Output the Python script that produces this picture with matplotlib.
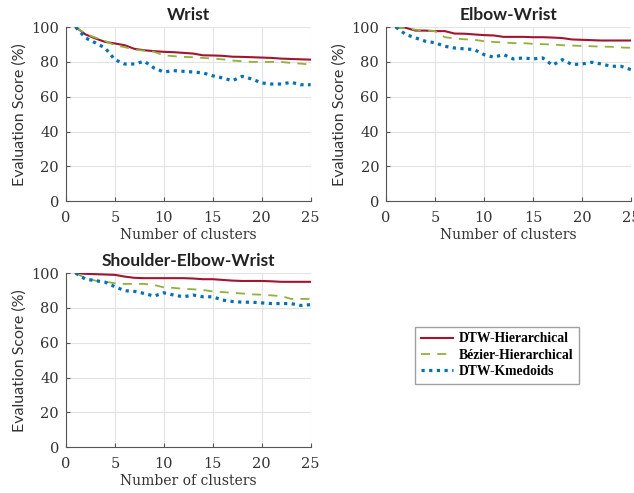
import matplotlib.pyplot as plt

clusters = list(range(1, 26))

# Wrist
wrist_dtw_h = [100, 95.8, 93.5, 91.5, 90.6, 89.6, 87.5, 86.7, 86.2, 85.8, 85.6, 85.2, 84.8,
               83.8, 83.7, 83.5, 83.0, 82.9, 82.7, 82.5, 82.3, 81.9, 81.7, 81.5, 81.3]
wrist_bez_h = [100, 96.0, 94.0, 92.0, 89.6, 88.5, 87.0, 86.5, 85.8, 83.8, 83.3, 82.9, 82.7,
               82.3, 81.9, 81.5, 80.8, 80.4, 80.0, 80.0, 80.0, 80.0, 79.4, 79.0, 78.5]
wrist_dtw_k = [100, 93.8, 91.0, 88.0, 81.3, 78.8, 78.8, 80.4, 76.5, 74.2, 75.0, 74.6, 74.2,
               73.7, 72.0, 70.8, 69.2, 71.7, 70.2, 67.9, 67.3, 67.3, 68.3, 66.9, 66.9]

# Elbow-Wrist
elbow_dtw_h = [100, 99.6, 98.0, 98.0, 97.7, 97.7, 96.3, 96.2, 95.8, 95.4, 95.2, 94.4, 94.4,
               94.4, 94.2, 94.2, 94.0, 93.7, 92.9, 92.7, 92.5, 92.3, 92.3, 92.3, 92.3]
elbow_bez_h = [100, 99.2, 98.5, 98.0, 97.7, 94.2, 93.5, 93.0, 92.7, 91.9, 91.5, 91.2, 90.8,
               90.8, 90.4, 90.2, 90.0, 89.6, 89.4, 89.2, 89.0, 88.8, 88.7, 88.3, 88.1]
elbow_dtw_k = [100, 95.8, 93.8, 91.9, 91.0, 89.0, 88.0, 87.5, 87.1, 84.2, 82.7, 84.2, 81.7,
               82.3, 81.7, 82.3, 78.1, 81.3, 78.5, 78.8, 79.8, 78.8, 77.5, 77.5, 75.6]

# Shoulder-Elbow-Wrist
sew_dtw_h = [100, 99.6, 99.4, 99.2, 99.0, 98.0, 97.3, 97.1, 97.1, 97.1, 97.1, 97.1, 96.9,
             96.5, 96.5, 96.1, 95.7, 95.5, 95.5, 95.5, 95.3, 95.0, 95.0, 95.0, 95.0]
sew_bez_h = [100, 97.1, 95.7, 95.1, 94.2, 93.8, 93.8, 93.8, 93.2, 91.8, 91.5, 91.0, 90.7,
             90.3, 89.5, 89.1, 88.7, 88.3, 87.8, 87.6, 87.2, 86.8, 85.2, 85.2, 85.2]
sew_dtw_k = [100, 96.5, 95.7, 94.8, 92.2, 89.9, 89.5, 88.3, 86.8, 88.7, 87.4, 86.4, 87.4,
             86.4, 86.4, 84.5, 83.7, 83.3, 83.3, 82.9, 82.5, 82.5, 82.5, 81.4, 81.9]

titles = ['Wrist', 'Elbow-Wrist', 'Shoulder-Elbow-Wrist']
series = [(wrist_dtw_h, wrist_bez_h, wrist_dtw_k),
          (elbow_dtw_h, elbow_bez_h, elbow_dtw_k),
          (sew_dtw_h, sew_bez_h, sew_dtw_k)]
labels = ['DTW-Hierarchical', 'Bézier-Hierarchical', 'DTW-Kmedoids']

serif = ['DejaVu Serif']
sans = ['Lato', 'DejaVu Sans']

fig = plt.figure(figsize=(6.34, 4.93), dpi=100)
positions = [[0.104, 0.592, 0.386, 0.353],
             [0.609, 0.592, 0.386, 0.353],
             [0.104, 0.093, 0.386, 0.353]]

for pos, title, (h, b, k) in zip(positions, titles, series):
    ax = fig.add_axes(pos)
    l1, = ax.plot(clusters, h, color='#A2142F', lw=1.5, label=labels[0])
    l2, = ax.plot(clusters, b, color='#8DB33A', lw=1.3, ls=(0, (5, 4)), label=labels[1])
    l3, = ax.plot(clusters, k, color='#0072BD', lw=2.3, ls=(0, (1, 1.4)), label=labels[2])
    ax.set_xlim(0, 25)
    ax.set_ylim(0, 100)
    ax.set_xticks([0, 5, 10, 15, 20, 25])
    ax.set_yticks([0, 20, 40, 60, 80, 100])
    ax.grid(True, color='#E3E3E3', lw=0.8)
    ax.set_axisbelow(True)
    for s in ['top', 'right']:
        ax.spines[s].set_visible(False)
    for s in ['left', 'bottom']:
        ax.spines[s].set_color('#555555')
    ax.tick_params(direction='in', length=3, colors='#555555', labelcolor='#333333',
                   labelsize=10.5)
    ax.tick_params(axis='x', pad=7)
    ax.tick_params(axis='y', pad=5)
    for t in ax.get_xticklabels() + ax.get_yticklabels():
        t.set_family(serif)
    ax.set_title(title, family=sans, fontweight='bold', fontsize=12.5, pad=5, color='#222222')
    ax.set_xlabel('Number of clusters', family=serif, fontsize=10, color='#333333', labelpad=2)
    ax.set_ylabel('Evaluation Score (%)', family=sans, fontsize=11.5, color='#333333', labelpad=3)

fig.legend(handles=[l1, l2, l3], loc='upper left', bbox_to_anchor=(0.655, 0.337),
           prop={'family': ['Liberation Serif'], 'size': 9.8, 'weight': 'bold'},
           frameon=True, fancybox=False, edgecolor='#888888', handlelength=2.4,
           borderpad=0.4, labelspacing=0.25, handletextpad=0.4, borderaxespad=0)

fig.savefig('out.png', dpi=100)
